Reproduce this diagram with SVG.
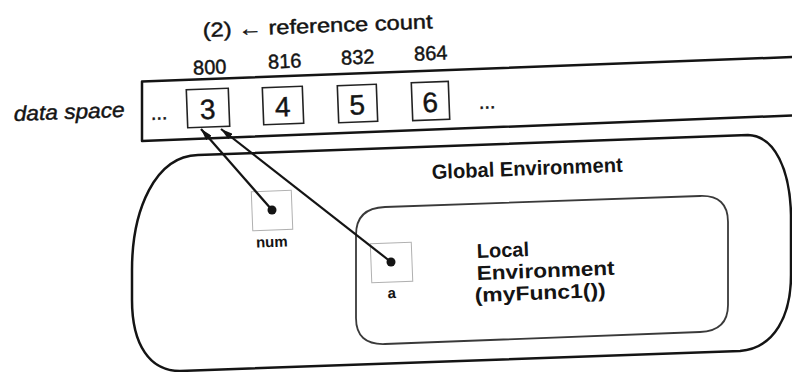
<svg xmlns="http://www.w3.org/2000/svg" width="792" height="372" viewBox="0 0 792 372">
<style>
.t{font-family:"Liberation Sans",Arial,sans-serif;fill:#141414}
.h{stroke:#141414;stroke-width:0.45}
.b{font-weight:bold}
.edge{fill:none;stroke:#141414;stroke-width:2.5;stroke-linejoin:round}
.cell{fill:none;stroke:#222;stroke-width:1.6}
.var{fill:none;stroke:#b0b0b0;stroke-width:1}
.conn{fill:none;stroke:#141414;stroke-width:2.2}
</style>
<defs>
<marker id="ah" markerUnits="userSpaceOnUse" markerWidth="13" markerHeight="7" refX="12" refY="3.5" orient="auto">
<path d="M0,0 L12,3.5 L0,7 Z" fill="#141414"/>
</marker>
</defs>
<rect width="792" height="372" fill="#fff"/>

<g id="header">
<text class="t h" x="203" y="37" font-size="20" textLength="230" lengthAdjust="spacingAndGlyphs" transform="rotate(-2.2 203 37)">(2) ← reference count</text>
<text class="t h" x="210" y="74" font-size="20" text-anchor="middle" transform="rotate(-2.2 210 74)">800</text>
<text class="t h" x="285" y="68" font-size="20" text-anchor="middle" transform="rotate(-2.2 285 68)">816</text>
<text class="t h" x="358" y="64" font-size="20" text-anchor="middle" transform="rotate(-2.2 358 64)">832</text>
<text class="t h" x="431" y="60" font-size="20" text-anchor="middle" transform="rotate(-2.2 431 60)">864</text>
</g>

<g id="data-space">
<text class="t h" x="14" y="121" font-size="21" font-style="italic" textLength="111" lengthAdjust="spacingAndGlyphs" transform="rotate(-2.2 14 121)">data space</text>
<path class="edge" d="M792,57 L142,81.5 L142,141 L792,115.5"/>
<text class="t h" x="151" y="120" font-size="20" transform="rotate(-2.2 151 120)">...</text>
<text class="t h" x="479" y="109" font-size="20" transform="rotate(-2.2 479 109)">...</text>
</g>

<g id="cell-800">
<rect class="cell" x="187" y="89" width="42" height="38" transform="rotate(-2.2 208 108)"/>
<text class="t h" x="208" y="119" font-size="28" text-anchor="middle" transform="rotate(-2.2 208 119)">3</text>
</g>
<g id="cell-816">
<rect class="cell" x="263" y="87" width="40" height="37" transform="rotate(-2.2 283 105.5)"/>
<text class="t h" x="283" y="116.5" font-size="28" text-anchor="middle" transform="rotate(-2.2 283 116.5)">4</text>
</g>
<g id="cell-832">
<rect class="cell" x="338" y="85" width="39" height="37" transform="rotate(-2.2 357.5 103.5)"/>
<text class="t h" x="357.5" y="114.5" font-size="28" text-anchor="middle" transform="rotate(-2.2 357.5 114.5)">5</text>
</g>
<g id="cell-864">
<rect class="cell" x="412" y="82" width="37" height="38" transform="rotate(-2.2 430.5 101)"/>
<text class="t h" x="430.5" y="112" font-size="28" text-anchor="middle" transform="rotate(-2.2 430.5 112)">6</text>
</g>

<g id="global-env">
<path class="edge" d="M198,155 L748,135 C775,136 790,170 791,215 L791,275 C791,315 775,348 740,351 L180,371 C150,371 132,345 132,300 L132,270 C132,210 155,156 198,155 Z"/>
<text class="t b" x="432" y="179" font-size="20.5" textLength="191" lengthAdjust="spacingAndGlyphs" transform="rotate(-2.2 432 179)">Global Environment</text>
</g>

<g id="local-env">
<path d="M385,207 L700,196 Q728,195 728,222 L728,305 Q728,331 700,332 L385,344 Q356,345 356,318 L356,235 Q356,208 385,207 Z" fill="none" stroke="#3a3a3a" stroke-width="1.8"/>
<text class="t b" x="477" y="258" font-size="20" transform="rotate(-2.2 477 258)">Local</text>
<text class="t b" x="477" y="280" font-size="20" textLength="138" lengthAdjust="spacingAndGlyphs" transform="rotate(-2.2 477 280)">Environment</text>
<text class="t b" x="475" y="302" font-size="20" textLength="131" lengthAdjust="spacingAndGlyphs" transform="rotate(-2.2 475 302)">(myFunc1())</text>
</g>

<g id="var-num">
<rect class="var" x="252" y="191" width="40" height="39" transform="rotate(-2.2 272 210)"/>
<circle cx="272" cy="210" r="4.5" fill="#141414"/>
<text class="t b" x="272" y="247" font-size="15" text-anchor="middle" transform="rotate(-2.2 272 247)">num</text>
</g>

<g id="var-a">
<rect class="var" x="371" y="243" width="41" height="39" transform="rotate(-2.2 391 262)"/>
<circle cx="391" cy="262" r="4.5" fill="#141414"/>
<text class="t b" x="392" y="298" font-size="15" text-anchor="middle" transform="rotate(-2.2 392 298)">a</text>
</g>

<g id="connectors">
<line class="conn" x1="272" y1="210" x2="201" y2="129" marker-end="url(#ah)"/>
<line class="conn" x1="391" y1="262" x2="221" y2="129" marker-end="url(#ah)"/>
</g>
</svg>
